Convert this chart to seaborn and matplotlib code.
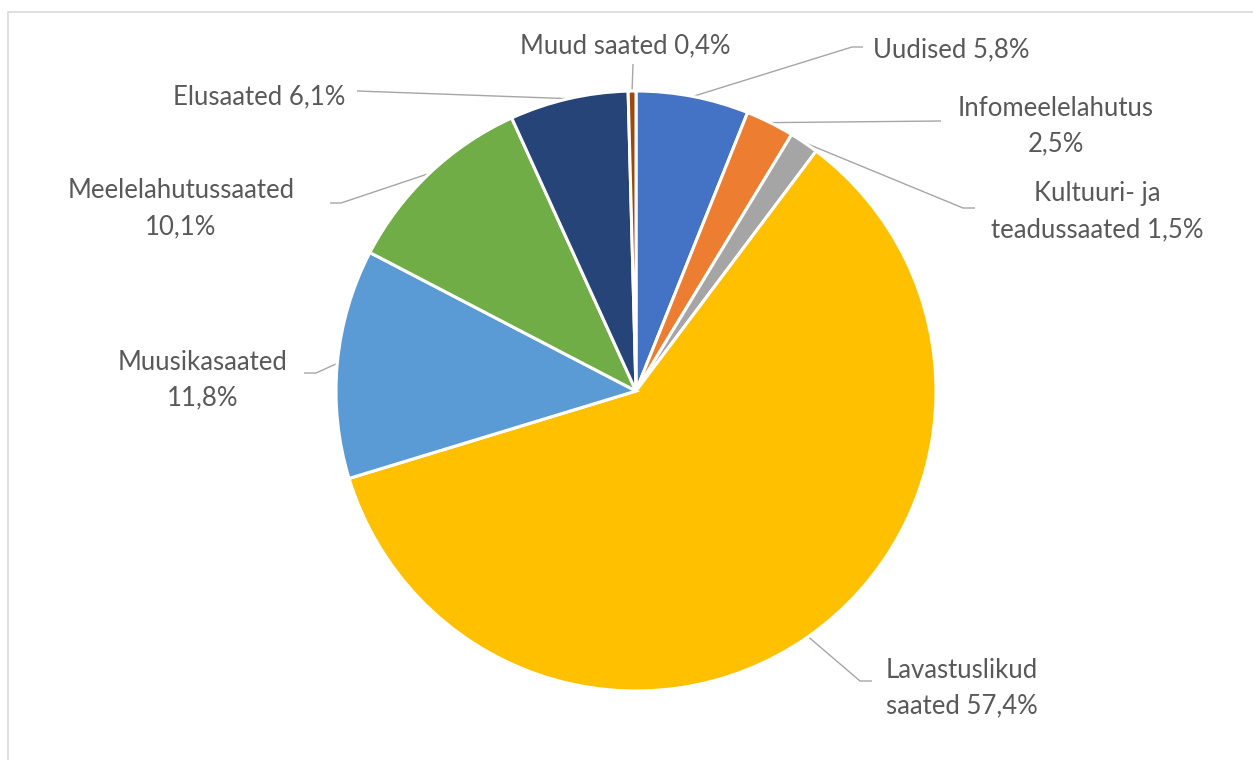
import numpy as np
import matplotlib
matplotlib.use("Agg")
import matplotlib.pyplot as plt
from matplotlib.patches import Rectangle
import seaborn as sns

sns.set_style("white")
plt.rcParams['font.family'] = ['Lato', 'DejaVu Sans']

# ---- data ----
categories = ["Uudised", "Infomeelelahutus", "Kultuuri- ja\nteadussaated",
              "Lavastuslikud\nsaated", "Muusikasaated", "Meelelahutussaated",
              "Elusaated", "Muud saated"]
values = [5.8, 2.5, 1.5, 57.4, 11.8, 10.1, 6.1, 0.4]
# separator between name and value in the label (" " or newline)
separators = [" ", "\n", " ", " ", "\n", "\n", " ", " "]
colors = ["#4472C4", "#ED7D31", "#A5A5A5", "#FFC000",
          "#5B9BD5", "#70AD47", "#264478", "#9E480E"]

W, H = 1253, 760
fig = plt.figure(figsize=(W / 100, H / 100), dpi=100)
ax = fig.add_axes([0, 0, 1, 1])
ax.set_xlim(0, W)
ax.set_ylim(0, H)
ax.set_aspect("equal")
ax.axis("off")

cx, cy, R = 636, H - 391, 300
wedges, _ = ax.pie(values, colors=colors, startangle=90, counterclock=False,
                   center=(cx, cy), radius=R,
                   wedgeprops=dict(edgecolor="white", linewidth=2.2))
ax.set_xlim(0, W)
ax.set_ylim(0, H)

# label layout in image pixel coords: (text_x, text_y, ha, elbow, end)
layout = [
    (873, 50, "left", (852, 47), (863, 47)),
    (1056, 126, "center", None, (941, 121)),
    (1097, 212, "center", (963, 208), (975, 208)),
    (962, 688, "center", (860, 681), (872, 681)),
    (203, 380, "center", (316, 373), (304, 373)),
    (181, 209, "center", (341, 203), (330, 203)),
    (345, 97, "right", None, (357, 91)),
    (625, 46, "center", None, (633, 64)),
]

line_col = "#A6A6A6"
text_col = "#595959"
for w, cat, val, sep, (tx, ty, ha, elbow, end) in zip(
        wedges, categories, values, separators, layout):
    mid = np.deg2rad((w.theta1 + w.theta2) / 2)
    ax_pt = (cx + R * np.cos(mid), cy + R * np.sin(mid))
    pts = [ax_pt]
    if elbow is not None:
        pts.append((elbow[0], H - elbow[1]))
    pts.append((end[0], H - end[1]))
    xs, ys = zip(*pts)
    ax.plot(xs, ys, color=line_col, lw=1.0, solid_capstyle="butt", zorder=0.5)
    label = f"{cat}{sep}{val:.1f}%".replace(".", ",")
    ax.text(tx, H - ty, label, ha=ha, va="center", multialignment="center",
            fontsize=18.5, color=text_col, linespacing=1.55)

# chart area border
fig.patches.append(Rectangle((8 / W, -0.1), 2.0, (H - 12) / H + 0.1,
                             transform=fig.transFigure, fill=False,
                             edgecolor="#D9D9D9", lw=1.2))

fig.savefig("out.png", dpi=100, facecolor="white")
